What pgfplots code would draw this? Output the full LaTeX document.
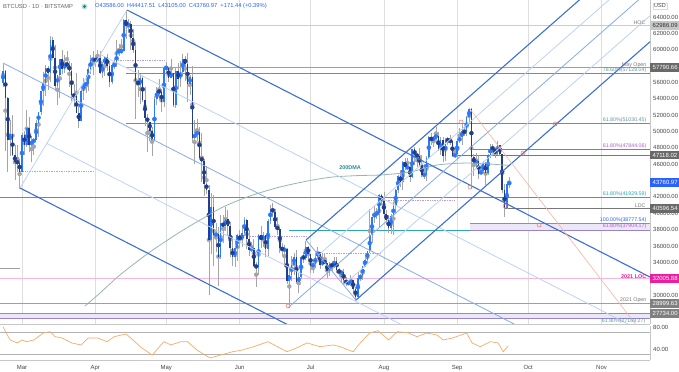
\documentclass[border=0pt]{standalone}
\usepackage{pgfplots}
\pgfplotsset{compat=1.18}
\usepackage{pgfplotstable}
\usepackage{fontspec}
\setmainfont{Liberation Sans}
\definecolor{upc}{RGB}{41,121,255}
\definecolor{dnc}{RGB}{32,62,140}
\definecolor{wick}{RGB}{165,165,165}
\definecolor{fork}{RGB}{61,111,214}
\definecolor{forkm}{RGB}{135,170,230}
\definecolor{forkl}{RGB}{190,210,243}
\definecolor{tealg}{RGB}{95,150,160}
\definecolor{cyanl}{RGB}{45,165,185}
\definecolor{purp}{RGB}{178,92,200}
\definecolor{bandf}{RGB}{236,231,246}
\definecolor{bandl}{RGB}{150,132,205}
\definecolor{pinkl}{RGB}{248,182,222}
\definecolor{mag}{RGB}{236,30,160}
\definecolor{grayl}{RGB}{160,160,160}
\definecolor{grayd}{RGB}{120,120,120}
\definecolor{boxg}{RGB}{105,105,105}
\definecolor{boxb}{RGB}{41,98,255}
\definecolor{dma}{RGB}{150,182,182}
\definecolor{rsic}{RGB}{245,172,105}
\definecolor{redc}{RGB}{240,115,105}
\definecolor{redl}{RGB}{246,180,165}
\definecolor{dotp}{RGB}{180,160,220}
\definecolor{txt}{RGB}{70,70,70}

\pgfplotstableread{
d O H L C
-8 55.9 58.3 55.5 57.4
-7 57.4 57.5 47.6 54.1
-6 54.1 54.2 45.0 48.9
-5 48.9 51.4 47.0 49.7
-4 49.7 52.0 47.0 47.1
-3 47.1 48.4 44.1 46.3
-2 46.3 48.3 45.0 46.2
-1 46.2 46.6 43.0 45.1
0 45.1 49.8 45.0 49.6
1 49.6 50.1 47.1 48.4
2 48.4 52.6 48.1 50.4
3 50.4 51.8 47.5 48.4
4 48.4 49.4 46.3 48.8
5 48.8 49.2 47.1 48.9
6 48.9 51.4 48.9 51.0
7 51.0 52.4 49.3 52.4
8 52.4 54.9 52.0 54.9
9 54.9 57.3 53.1 55.9
10 55.9 58.1 54.3 57.8
11 57.8 58.0 55.1 57.2
12 57.2 61.7 56.1 61.2
13 61.2 61.6 59.0 59.0
14 59.0 60.6 55.0 55.6
15 55.6 56.9 53.3 56.9
16 56.9 58.9 54.1 58.9
17 58.9 60.0 57.0 57.6
18 57.6 59.4 57.2 58.3
19 58.3 59.9 57.8 58.1
20 58.1 58.6 55.5 57.4
21 57.4 58.4 53.7 54.5
22 54.5 55.8 53.0 54.3
23 54.3 57.2 52.3 52.3
24 52.3 53.2 50.4 51.3
25 51.3 55.1 51.3 55.0
26 55.0 56.5 53.9 55.8
27 55.8 56.5 54.7 55.8
28 55.8 58.3 54.9 57.6
29 57.6 59.3 57.0 58.8
30 58.8 59.8 56.9 58.8
31 58.8 59.4 57.9 58.7
32 58.7 60.0 58.5 59.0
33 59.0 59.8 57.0 57.1
34 57.1 58.5 56.5 58.2
35 58.2 59.2 56.8 59.1
36 59.1 59.5 57.4 58.0
37 58.0 58.6 55.5 56.0
38 56.0 58.2 55.8 58.1
39 58.1 58.9 57.6 58.1
40 58.1 61.2 57.9 59.8
41 59.8 60.7 59.2 59.8
42 59.8 61.3 59.5 59.9
43 59.9 63.8 59.8 63.6
44 63.6 64.9 61.3 62.9
45 62.9 63.8 62.0 63.2
46 63.2 63.5 60.0 61.4
47 61.4 62.5 59.6 60.0
48 60.0 61.0 51.5 56.2
49 56.2 57.5 54.2 55.7
50 55.7 57.0 53.4 56.5
51 56.5 56.8 53.6 53.8
52 53.8 55.4 50.7 51.7
53 51.7 52.1 47.5 51.2
54 51.2 51.2 48.8 50.1
55 50.1 50.5 47.0 49.0
56 49.0 54.3 48.8 54.0
57 54.0 55.4 53.3 55.0
58 55.0 56.4 53.9 54.8
59 54.8 55.2 52.4 53.6
60 53.6 58.0 53.0 57.8
61 57.8 58.5 57.0 57.8
62 57.8 57.9 56.0 56.6
63 56.6 58.9 56.5 57.2
64 57.2 57.2 53.0 53.2
65 53.2 57.9 52.9 57.4
66 57.4 58.4 55.2 56.4
67 56.4 58.6 55.4 57.3
68 57.3 59.5 56.9 58.9
69 58.9 59.2 56.2 58.3
70 58.3 59.6 53.6 55.8
71 55.8 56.9 54.5 56.7
72 56.7 58.0 48.6 49.2
73 49.2 51.4 46.0 49.7
74 49.7 51.5 48.8 49.9
75 49.9 50.6 46.6 46.8
76 46.8 49.8 43.8 46.4
77 46.4 46.6 42.1 43.6
78 43.6 45.8 42.3 42.9
79 42.9 43.5 30.0 36.7
80 36.7 42.5 35.0 40.8
81 40.8 42.2 33.5 37.3
82 37.3 38.8 35.3 37.5
83 37.5 38.3 31.1 34.7
84 34.7 39.8 34.4 38.8
85 38.8 39.8 36.4 38.4
86 38.4 40.8 37.8 39.3
87 39.3 40.4 37.2 38.5
88 38.5 38.9 34.7 35.7
89 35.7 37.2 33.6 34.6
90 34.6 36.4 33.4 35.7
91 35.7 37.5 34.2 37.3
92 37.3 37.9 35.7 36.7
93 36.7 38.2 35.9 37.6
94 37.6 39.5 37.2 39.2
95 39.2 39.3 35.6 36.9
96 36.9 37.9 34.8 35.5
97 35.5 36.5 35.3 35.8
98 35.8 36.8 33.4 33.6
99 33.6 34.0 31.0 33.4
100 33.4 37.5 32.4 37.3
101 37.3 38.4 35.8 36.7
102 36.7 37.7 35.9 37.3
103 37.3 37.4 34.6 35.6
104 35.6 39.3 34.8 39.1
105 39.1 41.0 38.7 40.5
106 40.5 41.3 39.5 40.2
107 40.2 40.5 38.1 38.3
108 38.3 39.5 37.4 38.1
109 38.1 38.2 35.2 35.8
110 35.8 36.4 34.8 35.5
111 35.5 36.1 33.4 35.6
112 35.6 35.7 31.3 31.7
113 31.7 33.3 28.8 32.5
114 32.5 34.8 31.7 33.7
115 33.7 35.2 32.4 34.7
116 34.7 35.5 31.3 31.6
117 31.6 32.7 30.2 32.2
118 32.2 34.7 32.0 34.7
119 34.7 35.3 33.9 34.5
120 34.5 36.6 34.3 35.9
121 35.9 36.0 34.0 35.0
122 35.0 35.0 32.7 33.5
123 33.5 33.9 32.7 33.8
124 33.8 34.9 33.3 34.7
125 34.7 35.9 34.4 35.3
126 35.3 35.3 33.2 33.7
127 33.7 35.1 33.6 34.2
128 34.2 35.0 33.8 33.9
129 33.9 33.9 32.1 32.9
130 32.9 34.1 32.3 33.8
131 33.8 34.2 33.0 33.5
132 33.5 34.6 33.3 34.2
133 34.2 34.7 32.7 33.1
134 33.1 33.3 32.3 32.7
135 32.7 33.1 31.6 32.8
136 32.8 33.2 31.2 31.8
137 31.8 32.2 31.1 31.4
138 31.4 31.9 31.2 31.5
139 31.5 32.4 31.1 31.8
140 31.8 31.9 30.4 30.8
141 30.8 31.0 29.3 29.8
142 29.8 32.8 29.5 32.1
143 32.1 32.6 31.7 32.3
144 32.3 33.6 31.9 33.6
145 33.6 34.5 33.4 34.3
146 34.3 35.4 33.9 35.4
147 35.4 40.5 35.2 37.3
148 37.3 39.5 36.4 39.5
149 39.5 40.9 38.8 40.0
150 40.0 40.6 39.3 40.0
151 40.0 42.3 38.3 42.2
152 42.2 42.3 41.0 41.5
153 41.5 42.6 39.4 39.9
154 39.9 40.4 38.7 39.2
155 39.2 39.8 37.6 38.2
156 38.2 39.9 37.5 39.7
157 39.7 41.4 37.3 40.9
158 40.9 43.0 39.9 42.8
159 42.8 44.7 42.5 44.6
160 44.6 45.3 43.2 43.8
161 43.8 46.4 42.9 46.3
162 46.3 46.7 45.3 45.6
163 45.6 46.8 45.5 45.6
164 45.6 46.2 43.8 44.4
165 44.4 47.9 44.3 47.8
166 47.8 48.1 45.9 47.1
167 47.1 47.4 45.6 47.0
168 47.0 48.0 45.7 45.9
169 45.9 47.1 44.4 44.7
170 44.7 46.0 44.2 44.7
171 44.7 47.0 43.9 46.8
172 46.8 49.4 46.6 49.3
173 49.3 49.8 48.3 48.9
174 48.9 49.5 48.1 49.3
175 49.3 50.5 49.0 49.5
176 49.5 49.9 47.6 47.7
177 47.7 49.3 47.1 48.9
178 48.9 49.3 46.3 47.0
179 47.0 49.2 46.4 49.0
180 49.0 49.3 48.4 48.9
181 48.9 49.6 48.3 48.8
182 48.8 48.9 46.9 47.0
183 47.0 48.2 46.7 47.2
184 47.2 49.1 46.6 48.8
185 48.8 50.4 48.6 49.3
186 49.3 51.0 48.4 50.0
187 50.0 50.6 49.5 49.9
188 49.9 51.9 49.5 51.8
189 51.8 52.9 50.9 52.7
190 52.7 52.9 43.0 46.9
191 46.9 47.3 44.5 46.1
192 46.1 47.4 45.5 46.4
193 46.4 47.1 44.2 44.8
194 44.8 45.9 44.7 45.2
195 45.2 46.4 44.8 46.1
196 46.1 46.3 43.4 44.9
197 44.9 47.3 44.7 47.1
198 47.1 48.5 46.7 48.1
199 48.1 48.5 47.0 47.8
200 47.8 48.0 46.7 47.3
201 47.3 48.8 47.1 48.3
202 48.3 48.4 47.0 47.3
203 47.3 47.3 42.5 42.9
204 42.9 43.6 39.6 40.6
205 40.6 44.0 40.5 43.59
206 43.586 44.4175 43.105 43.761
}\candles

\pgfplotstableread{
d r
-8 80.5
-7 71.5
-5 56.4
-2 51
0 56.4
2 53.3
5 56.4
9 69
12 71.5
14 62.4
17 60
21 51
25 47.3
28 60
32 60
36 53.3
39 62.4
44 67.3
46 60
50 44.2
55 29
60 53.3
63 47.3
67 53.3
70 53.3
74 38
79.5 23.6
84 29
89 35
93 38
98 44.2
104 53.3
108 44.2
112 35
116 41.8
120.5 51
126 44.2
131.5 47.3
134.5 44.2
140 35
143 51
147 69
150.5 73.3
155 56.4
158.6 71.5
163 69.6
167 62.4
171 69
175.5 65.5
178 56.4
182 60
188 69
190.3 51
193.7 44.2
198 53.3
201.3 51
203.4 35
205.5 45.5
}\rsitab

\begin{document}
\begin{tikzpicture}
\useasboundingbox (0,0) rectangle (679bp,372bp);
\fill[white] (0,0) rectangle (679bp,372bp);
% ---------------- price panel
\begin{axis}[at={(0bp,48bp)}, anchor=south west, scale only axis,
  width=650bp, height=324bp,
  xmin=-9.3, xmax=265.5, ymin=26463, ymax=66079,
  clip mode=individual, scaled y ticks=false, scaled x ticks=false,
  axis x line*=bottom, axis y line*=right,
  axis line style={draw=black!22, line width=0.6pt},
  xtick={0,31,61,92,122,153,184,214,245}, xticklabels={},
  xmajorgrids, major grid style={draw=black!13, line width=0.6pt},
  ytick={30000,34000,36000,38000,40000,42000,46000,48000,50000,52000,54000,56000,60000,62000,64000},
  yticklabel pos=right, major tick length=0pt,
  yticklabel style={font=\fontsize{6}{7}\selectfont, text=txt, anchor=west, inner sep=0pt, xshift=3bp,
    /pgf/number format/.cd, fixed, fixed zerofill, precision=2, 1000 sep={}, assume math mode=true}]

% bands
\addplot[fill=bandf, draw=none] coordinates {(-9.3,27169.27) (265.5,27169.27) (265.5,27734) (-9.3,27734)} -- cycle;
\addplot[fill=bandf, draw=none] coordinates {(189.4,37904.17) (265.5,37904.17) (265.5,38777.54) (189.4,38777.54)} -- cycle;

% horizontal levels
\addplot[black!20, line width=0.9pt] coordinates {(44,62986.09) (265.5,62986.09)};
\addplot[grayl, line width=0.9pt] coordinates {(44,57790.66) (265.5,57790.66)};
\addplot[tealg, line width=0.9pt] coordinates {(44,57128.04) (265.5,57128.04)};
\addplot[tealg, line width=0.9pt] coordinates {(44,51030.45) (265.5,51030.45)};
\addplot[purp, line width=0.9pt] coordinates {(189.4,47844.06) (265.5,47844.06)};
\addplot[grayd, line width=0.9pt] coordinates {(184,47118.02) (265.5,47118.02)};
\addplot[cyanl, line width=0.9pt] coordinates {(-9.3,41929.59) (265.5,41929.59)};
\addplot[grayd, line width=0.9pt] coordinates {(204,40596.54) (265.5,40596.54)};
\addplot[cyanl, line width=1pt] coordinates {(112.9,37904.17) (189.4,37904.17)};
\addplot[bandl, line width=0.9pt] coordinates {(189.4,38777.54) (265.5,38777.54)};
\addplot[bandl, line width=0.9pt] coordinates {(189.4,37904.17) (265.5,37904.17)};
\addplot[pinkl, line width=1.1pt] coordinates {(-9.3,32005.88) (265.5,32005.88)};
\addplot[grayl, line width=1.1pt] coordinates {(-9.3,28999.63) (265.5,28999.63)};
\addplot[bandl, line width=0.9pt] coordinates {(-9.3,27734) (265.5,27734)};
\addplot[bandl, line width=0.9pt] coordinates {(-9.3,27169.27) (265.5,27169.27)};
\addplot[grayl, line width=0.7pt] coordinates {(-9.3,33310) (-1,33310)};

% dotted pivots
\addplot[dotp, densely dotted, line width=0.7pt] coordinates {(40.6,58742) (60.5,58742)};
\addplot[dotp, densely dotted, line width=0.7pt] coordinates {(-0.8,45170) (30,45170)};
\addplot[dotp, densely dotted, line width=0.7pt] coordinates {(96.4,37222) (120.5,37222)};
\addplot[dotp, densely dotted, line width=0.7pt] coordinates {(127,35143) (151.4,35143)};
\addplot[dotp, densely dotted, line width=0.7pt] coordinates {(152.5,41540) (183.1,41540)};

% candles: wicks
\addplot[wick, only marks, mark=none, error bars/.cd, y dir=both, y explicit, error mark=none,
  error bar style={line width=0.7pt, draw=wick}]
  table[x=d, y expr={500*(\thisrow{H}+\thisrow{L})}, y error expr={500*(\thisrow{H}-\thisrow{L})}] {\candles};
% up bodies
\addplot[upc, only marks, mark=none, restrict y to domain=0:100000, error bars/.cd, y dir=both, y explicit, error mark=none,
  error bar style={line width=1.6pt, draw=upc}]
  table[x=d, y expr={\thisrow{C}<\thisrow{O} ? -200000 : 500*(\thisrow{O}+\thisrow{C})},
        y error expr={max(500*abs(\thisrow{C}-\thisrow{O}),60)}] {\candles};
% down bodies
\addplot[dnc, only marks, mark=none, restrict y to domain=0:100000, error bars/.cd, y dir=both, y explicit, error mark=none,
  error bar style={line width=1.6pt, draw=dnc}]
  table[x=d, y expr={\thisrow{C}<\thisrow{O} ? 500*(\thisrow{O}+\thisrow{C}) : -200000},
        y error expr={max(500*abs(\thisrow{C}-\thisrow{O}),60)}] {\candles};

% 200DMA
\addplot[dma, line width=0.8pt, smooth] coordinates {(26.6,28664) (33,30254) (41.4,32454) (54.1,35267) (66.8,37711) (75.3,39179) (85,40769) (96.4,42114) (109.1,43214) (121.8,44009) (131.5,44437) (142.9,44620) (151.4,44681) (164.1,45048) (175.5,45904) (189.4,46149) (203.4,45904) (206,45843)};

% descending pitchfork
\addplot[forkl, line width=0.8pt] coordinates {(44.4,64856) (-0.85,43092)};
\addplot[fork, line width=1.1pt] coordinates {(44.4,64856) (265.5,32200)};
\addplot[fork, line width=1.1pt] coordinates {(-0.85,43092) (265.5,3752)};
\addplot[forkm, line width=0.8pt] coordinates {(-8.03,58376) (265.5,17976)};
\addplot[forkl, line width=0.8pt] coordinates {(33.09,59415) (265.5,25088)};
\addplot[forkl, line width=0.8pt] coordinates {(10.46,48533) (265.5,10864)};

% ascending pitchfork
\addplot[forkm, line width=0.8pt] coordinates {(120.08,36733) (141.2,29397)};
\addplot[fork, line width=1.1pt] coordinates {(120.08,36733) (265.5,73670)};
\addplot[fork, line width=1.1pt] coordinates {(141.2,29397) (265.5,60969)};
\addplot[forkm, line width=0.8pt] coordinates {(112.47,28450) (265.5,67320)};
\addplot[forkl, line width=0.8pt] coordinates {(125.36,34899) (265.5,70495)};
\addplot[forkl, line width=0.8pt] coordinates {(135.92,31231) (265.5,64144)};

% red descending line
\addplot[redl, line width=0.6pt] coordinates {(189,52900) (265.5,24136)};
% red circles
\addplot[only marks, mark=o, mark size=2bp, draw=redc, line width=0.5pt] coordinates {(112.5,28664) (185.6,51162) (189.4,43214) (204.2,40891) (211.8,47371) (225.4,50917) (218.6,38568)};

% text labels
\tikzset{lab/.style={anchor=south east, inner sep=0.4pt, font=\fontsize{5.3}{6}\selectfont}}
\node[lab, text=grayd] at (axis cs:263.8,62986.09) {HOC};
\node[lab, text=grayd] at (axis cs:264.2,57790.66) {May Open};
\node[lab, text=tealg] at (axis cs:264.2,57128.04) {78.60\%(57128.04)};
\node[lab, text=tealg] at (axis cs:264.2,51030.45) {61.80\%(51030.45)};
\node[lab, text=purp] at (axis cs:264.2,47844.06) {61.80\%(47844.06)};
\node[lab, text=cyanl] at (axis cs:264.2,41929.59) {61.80\%(41929.59)};
\node[lab, text=grayd] at (axis cs:263.8,40596.54) {LDC};
\node[lab, text=boxb] at (axis cs:264.2,38777.54) {100.00\%(38777.54)};
\node[lab, text=purp, anchor=north east] at (axis cs:264.2,38777.54) {61.80\%(37904.17)};
\node[lab, text=mag, font=\fontsize{5.5}{6}\selectfont\bfseries] at (axis cs:264.2,32005.88) {2021 LOC};
\node[lab, text=grayd] at (axis cs:264.2,28999.63) {2021 Open};
\node[lab, text=tealg, anchor=north east] at (axis cs:263.8,27169.27) {61.80\%(27169.27)};
\node[text=cyanl!85!black, font=\fontsize{5.5}{6}\selectfont\bfseries, inner sep=0pt] at (axis cs:138.7,45537) {200DMA};

\coordinate (r1) at (axis cs:265.5,62986.09);
\coordinate (r2) at (axis cs:265.5,57790.66);
\coordinate (r3) at (axis cs:265.5,47118.02);
\coordinate (r4) at (axis cs:265.5,43760.97);
\coordinate (r5) at (axis cs:265.5,40596.54);
\coordinate (r6) at (axis cs:265.5,32005.88);
\coordinate (r7) at (axis cs:265.5,28999.63);
\coordinate (r8) at (axis cs:265.5,27734.00);
\end{axis}

% ---------------- RSI panel
\begin{axis}[at={(0bp,12bp)}, anchor=south west, scale only axis,
  width=650bp, height=34bp,
  xmin=-9.3, xmax=265.5, ymin=20, ymax=81.8,
  axis x line*=bottom, axis y line*=right,
  axis line style={draw=black!22, line width=0.6pt},
  xtick={0,31,61,92,122,153,184,214,245},
  xticklabels={Mar,Apr,May,Jun,Jul,Aug,Sep,Oct,Nov},
  xticklabel style={font=\fontsize{6}{7}\selectfont, text=txt, anchor=base, yshift=-9bp, inner sep=0pt},
  ytick={40,80}, yticklabel pos=right, major tick length=0pt,
  yticklabel style={font=\fontsize{6}{7}\selectfont, text=txt, anchor=west, inner sep=0pt, xshift=3bp,
    /pgf/number format/.cd, fixed, fixed zerofill, precision=2, assume math mode=true}]
\addplot[black!30, line width=1.2pt] coordinates {(-9.3,70) (265.5,70)};
\addplot[black!30, line width=1.2pt] coordinates {(-9.3,30) (265.5,30)};
\addplot[rsic, line width=0.7pt] table[x=d, y=r] {\rsitab};
\end{axis}

% ---------------- right price boxes
\tikzset{pbox/.style={anchor=west, inner xsep=2.5bp, inner ysep=1.2bp, minimum height=8.6bp, text=white, font=\fontsize{6}{7}\selectfont}}
\node[pbox, fill=black!22, text=black!80] at (r1) {62986.09};
\node[pbox, fill=boxg] at (r2) {57790.66};
\node[pbox, fill=boxg] at (r3) {47118.02};
\node[pbox, fill=boxb] at (r4) {43760.97};
\node[pbox, fill=boxg] at (r5) {40596.54};
\node[pbox, fill=mag] at (r6) {32005.88};
\node[pbox, fill=boxg!85] at (r7) {28999.63};
\node[pbox, fill=boxg!85] at (r8) {27734.00};

% ---------------- header
\node[anchor=west, inner sep=0pt, font=\fontsize{5.8}{7}\selectfont, text=black!60] at (3bp,365.5bp) {BTCUSD · 1D · BITSTAMP};
\fill[teal!25] (84.5bp,365.5bp) circle (3bp);
\fill[teal!80!green] (84.5bp,365.5bp) circle (1.6bp);
\node[anchor=west, inner sep=0pt, font=\fontsize{5.8}{7}\selectfont, text=boxb] at (95bp,365.5bp) {O43586.00\ \ H44417.51\ \ L43105.00\ \ C43760.97\ \ +171.44 (+0.39\%)};
\node[anchor=west, inner sep=1pt, font=\fontsize{5.5}{6}\selectfont, text=txt, fill=white, draw=black!15] at (653bp,366bp) {USD};
\end{tikzpicture}
\end{document}
